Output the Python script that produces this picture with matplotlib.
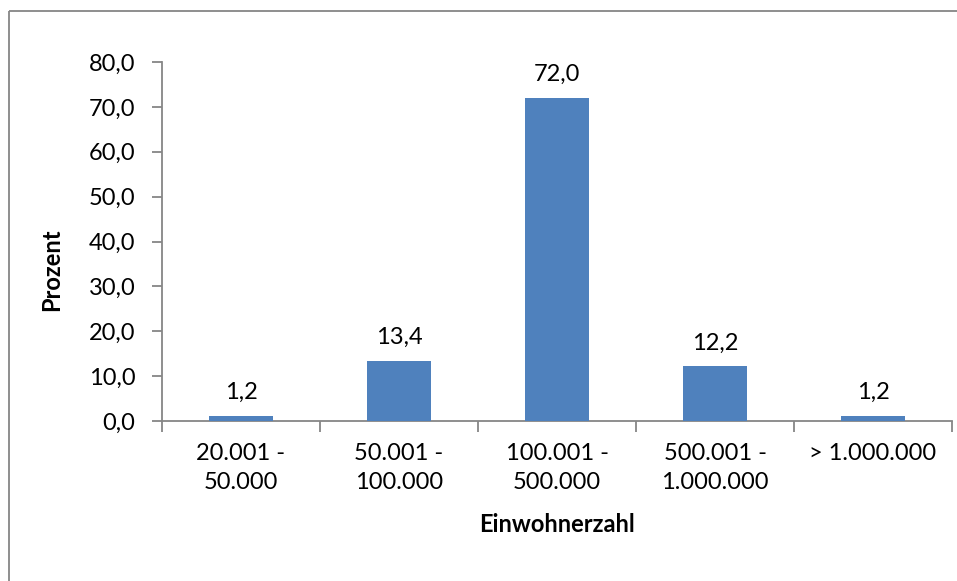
import matplotlib
matplotlib.use("Agg")
import matplotlib.pyplot as plt
from matplotlib.patches import Rectangle

categories = ["20.001 -\n50.000", "50.001 -\n100.000", "100.001 -\n500.000",
              "500.001 -\n1.000.000", "> 1.000.000"]
values = [1.2, 13.4, 72.0, 12.2, 1.2]
yticks = [0, 10, 20, 30, 40, 50, 60, 70, 80]

plt.rcParams['font.family'] = ['Lato', 'DejaVu Sans']
W, H = 957, 581
FS = 17
fig = plt.figure(figsize=(W/100, H/100), dpi=100)
fig.patch.set_facecolor('white')

# outer chart border
fig.patches.append(Rectangle((9/W, 1 - 11/H), 1.0, -1.0, transform=fig.transFigure,
                             fill=False, edgecolor='#868686', linewidth=1.3, clip_on=False))

ax = fig.add_axes([162/W, (H-421)/H, (952-162)/W, (421-62)/H])
gray = '#868686'
x = list(range(len(categories)))
bars = ax.bar(x, values, width=0.4, color='#4F81BD', zorder=3)
ax.set_xlim(-0.5, len(categories) - 0.5)
ax.set_ylim(0, 80)
ax.set_yticks(yticks)
ax.set_yticklabels([f"{v:.1f}".replace('.', ',') for v in yticks], fontsize=FS)
ax.set_xticks([i - 0.5 for i in range(len(categories) + 1)])
ax.set_xticklabels([])
ax.set_xticks(x, minor=True)
ax.set_xticklabels(categories, minor=True, fontsize=FS, linespacing=1.45)
ax.tick_params(axis='x', which='minor', length=0, pad=16)
ax.tick_params(axis='x', which='major', length=8, color=gray, width=1.3)
ax.tick_params(axis='y', length=7, color=gray, width=1.3, pad=12)
for s in ['top', 'right']:
    ax.spines[s].set_visible(False)
for s in ['left', 'bottom']:
    ax.spines[s].set_color(gray)
    ax.spines[s].set_linewidth(1.3)

for xi, v in zip(x, values):
    ax.annotate(f"{v:.1f}".replace('.', ','), (xi, v), xytext=(0, 12),
                textcoords='offset points', ha='center', va='baseline', fontsize=FS)

ax.set_ylabel("Prozent", fontsize=FS, fontweight='bold')
ax.yaxis.set_label_coords(52/W, 1 - 270/H, transform=fig.transFigure)
ax.set_xlabel("Einwohnerzahl", fontsize=FS, fontweight='bold')
ax.xaxis.set_label_coords(557/W, 1 - 525/H, transform=fig.transFigure)
ax.xaxis.label.set_va('center')
ax.yaxis.label.set_va('center')

fig.savefig("out.png", dpi=100)
